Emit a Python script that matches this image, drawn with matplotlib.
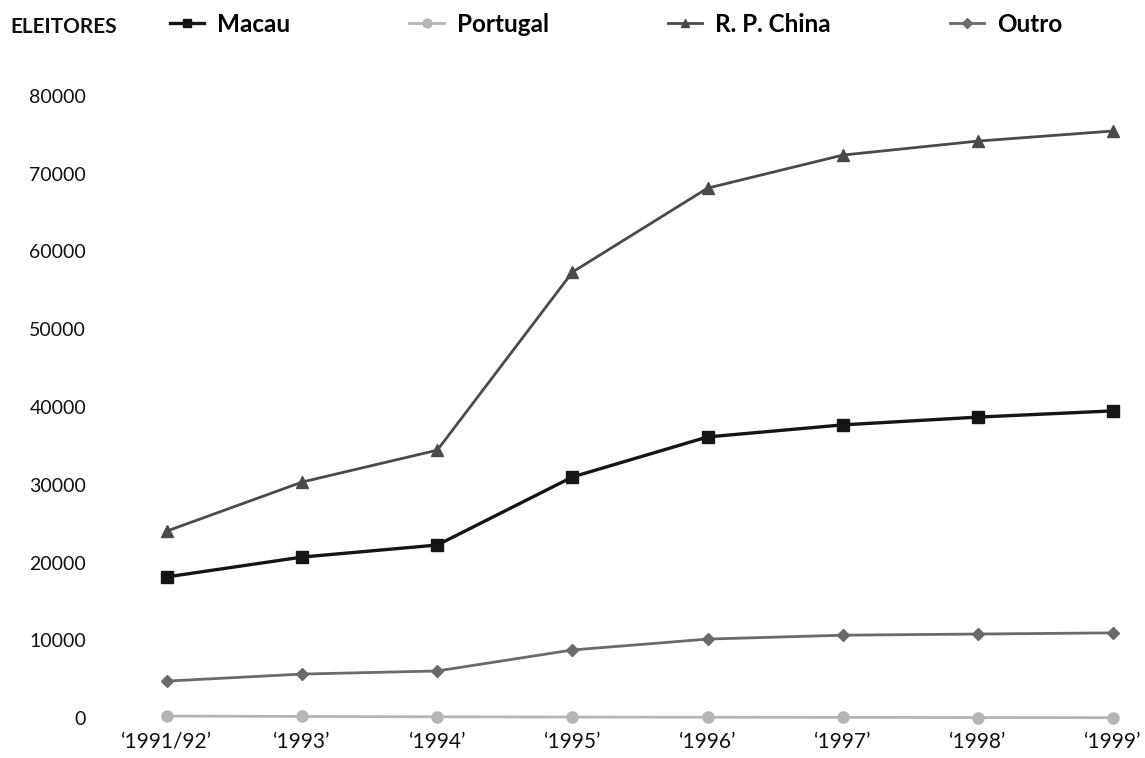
import matplotlib
matplotlib.use("Agg")
import matplotlib.pyplot as plt

# data
years = ["‘1991/92’", "‘1993’", "‘1994’", "‘1995’", "‘1996’", "‘1997’", "‘1998’", "‘1999’"]
macau = [18150, 20700, 22250, 31000, 36150, 37700, 38700, 39500]
portugal = [250, 200, 150, 120, 100, 80, 60, 40]
china = [24050, 30350, 34450, 57350, 68150, 72400, 74200, 75500]
outro = [4750, 5650, 6050, 8750, 10150, 10650, 10800, 10950]
y_ticks = [0, 10000, 20000, 30000, 40000, 50000, 60000, 70000, 80000]

plt.rcParams["font.family"] = ["Lato", "DejaVu Sans"]

fig = plt.figure(figsize=(11.45, 7.58), dpi=100)
# axes placed so that data area matches the reference in pixels
ax = fig.add_axes([100 / 1145, (758 - 718) / 758, (1135 - 100) / 1145, (718 - 96) / 758])

x = list(range(len(years)))
l1, = ax.plot(x, macau, color="#151515", lw=2.4, marker="s", ms=8, clip_on=False)
l2, = ax.plot(x, portugal, color="#b5b5b5", lw=2.0, marker="o", ms=8, clip_on=False)
l3, = ax.plot(x, china, color="#4a4a4a", lw=2.0, marker="^", ms=8, clip_on=False)
l4, = ax.plot(x, outro, color="#6a6a6a", lw=2.0, marker="D", ms=6, clip_on=False)

ax.set_xlim(-67 / 135.1, 7 + 22 / 135.1)
ax.set_ylim(0, 80000)
ax.set_xticks(x)
ax.set_xticklabels(years, fontsize=15)
ax.set_yticks(y_ticks)
ax.set_yticklabels([str(v) for v in y_ticks], fontsize=14)
ax.tick_params(axis="both", length=0, colors="#111111")
ax.tick_params(axis="x", pad=10)
ax.tick_params(axis="y", pad=10)
for s in ax.spines.values():
    s.set_visible(False)

fig.text(10 / 1145, 1 - 27 / 758, "ELEITORES", fontsize=15, fontweight="bold",
         va="center", ha="left", color="#111111")
fig.legend([l1, l2, l3, l4], ["Macau", "Portugal", "R. P. China", "Outro"],
           loc="center left", bbox_to_anchor=(148 / 1145, 1 - 24 / 758), ncol=4,
           frameon=False, prop={"size": 17.5, "weight": "bold"}, handlelength=1.4,
           handletextpad=0.55, columnspacing=4.9, markerscale=0.8)

fig.savefig("out.png", dpi=100, facecolor="white")
